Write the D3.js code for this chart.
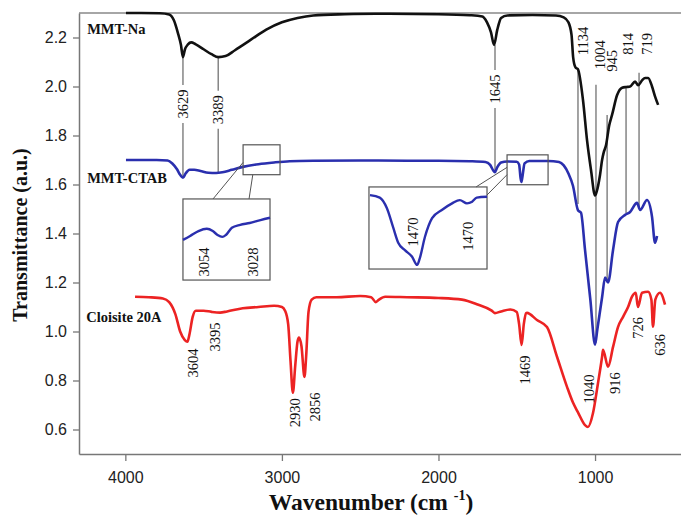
<!DOCTYPE html>
<html>
<head>
<meta charset="utf-8">
<script src="https://cdn.jsdelivr.net/npm/d3@7"></script>
<style>
  html, body { margin: 0; padding: 0; background: #fff; }
  svg { display: block; }
</style>
</head>
<body>
<svg id="chart" width="681" height="517"></svg>
<script>
// ---------------- DATA ----------------
const xTicks = [4000, 3000, 2000, 1000];
const yTicks = [0.6, 0.8, 1.0, 1.2, 1.4, 1.6, 1.8, 2.0, 2.2];

// MMT-Na  [wavenumber, transmittance]
const mmtNa = [
  [3996,2.300],[3900,2.300],[3780,2.299],[3720,2.294],[3690,2.270],[3665,2.220],[3645,2.170],
  [3632,2.120],[3620,2.150],[3600,2.172],[3580,2.180],[3550,2.172],[3500,2.152],[3450,2.132],
  [3405,2.120],[3360,2.124],[3300,2.148],[3200,2.190],[3100,2.232],[3000,2.262],[2900,2.280],
  [2800,2.290],[2600,2.295],[2400,2.297],[2000,2.295],[1800,2.291],[1720,2.286],[1690,2.262],
  [1665,2.222],[1645,2.170],[1625,2.230],[1600,2.280],[1560,2.290],[1400,2.292],[1250,2.290],
  [1200,2.282],[1170,2.262],[1150,2.210],[1140,2.120],[1125,2.078],[1109,2.070],[1077,1.945],
  [1051,1.780],[1026,1.660],[1000,1.555],[990,1.570],[968,1.640],[955,1.700],[945,1.730],
  [930,1.760],[910,1.840],[891,1.885],[859,1.965],[827,1.995],[800,1.998],[776,2.000],
  [744,2.020],[725,2.005],[700,2.025],[680,2.035],[661,2.035],[636,2.000],[617,1.960],[597,1.925]
];

// MMT-CTAB
const mmtCtab = [
  [3996,1.700],[3800,1.700],[3730,1.698],[3700,1.686],[3670,1.662],[3650,1.640],[3632,1.628],
  [3615,1.645],[3590,1.660],[3560,1.660],[3520,1.655],[3470,1.648],[3420,1.647],[3380,1.650],
  [3320,1.660],[3250,1.672],[3150,1.683],[3050,1.690],[2950,1.695],[2800,1.697],[2500,1.698],
  [2200,1.697],[2000,1.697],[1800,1.695],[1700,1.692],[1670,1.680],[1650,1.657],[1640,1.650],
  [1625,1.670],[1600,1.690],[1560,1.694],[1500,1.693],[1485,1.682],[1476,1.628],[1470,1.610],
  [1462,1.640],[1450,1.686],[1420,1.696],[1300,1.696],[1230,1.692],[1200,1.678],[1170,1.645],
  [1141,1.595],[1109,1.495],[1090,1.485],[1064,1.333],[1030,1.130],[1000,0.946],[985,1.010],
  [955,1.140],[936,1.220],[917,1.200],[885,1.333],[853,1.447],[808,1.476],[776,1.488],
  [732,1.525],[712,1.496],[668,1.537],[636,1.468],[617,1.362],[604,1.390]
];

// Cloisite 20A
const cloisite = [
  [3938,1.142],[3850,1.140],[3760,1.135],[3720,1.120],[3680,1.070],[3650,1.000],[3620,0.965],
  [3604,0.958],[3590,0.990],[3570,1.060],[3550,1.085],[3500,1.085],[3450,1.080],[3395,1.077],
  [3350,1.082],[3250,1.095],[3150,1.100],[3050,1.105],[3000,1.100],[2980,1.085],[2960,1.030],
  [2945,0.880],[2930,0.750],[2915,0.860],[2900,0.960],[2891,0.975],[2875,0.940],[2856,0.815],
  [2845,0.900],[2830,1.080],[2810,1.130],[2780,1.140],[2650,1.140],[2500,1.145],[2430,1.140],
  [2400,1.120],[2380,1.130],[2340,1.142],[2200,1.140],[2000,1.137],[1850,1.130],[1750,1.110],
  [1660,1.085],[1640,1.075],[1600,1.082],[1540,1.090],[1500,1.080],[1485,1.030],[1469,0.945],
  [1455,1.030],[1440,1.075],[1435,1.076],[1371,1.047],[1307,1.018],[1243,0.897],[1179,0.774],
  [1141,0.710],[1109,0.670],[1064,0.618],[1045,0.610],[1013,0.667],[981,0.790],[955,0.897],
  [949,0.925],[917,0.856],[885,0.937],[853,1.019],[821,1.060],[789,1.100],[764,1.142],
  [740,1.158],[726,1.100],[700,1.158],[661,1.162],[640,1.130],[630,1.020],[615,1.130],
  [585,1.158],[553,1.110]
];

// inset 1 (zoom of MMT-CTAB near 3050 cm-1)
const inset1Curve = [
  [3078,1.6874],[3072,1.6886],[3065,1.6901],[3058,1.6908],[3053,1.6901],[3049,1.6889],
  [3045,1.6883],[3042,1.6889],[3037,1.6911],[3030,1.6920],[3022,1.6926],[3013,1.6935],[3005,1.6942]
];
const inset1Domain = [3078, 3005];
const inset1TDomain = [1.675, 1.700];
const inset1Labels = [["3054", 3060], ["3028", 3019]];

// inset 2 (zoom of MMT-CTAB near 1470 cm-1)
const inset2Curve = [
  [1558,1.690],[1539,1.687],[1525,1.674],[1513,1.651],[1503,1.632],[1490,1.623],[1476,1.615],
  [1466,1.605],[1461,1.613],[1451,1.639],[1437,1.662],[1418,1.672],[1398,1.680],[1383,1.684],
  [1369,1.680],[1359,1.682],[1350,1.687],[1330,1.688]
];
const inset2Domain = [1560, 1330];
const inset2TDomain = [1.60, 1.70];
const inset2Labels = [["1470", 1475, 1.645], ["1470", 1368, 1.640]];

// boxes: [w1, w2, T1, T2]
const smallBox1 = [3248, 3012, 1.762, 1.640];
const bigBox1   = [3632, 3076, 1.541, 1.210];
const smallBox2 = [1562, 1300, 1.721, 1.599];
const bigBox2   = [2444, 1690, 1.590, 1.255];

// black peak markers: label, line wavenumber, line top T, line bottom T, text w, text centre T
const naPeaks = [
  {label:"3629", w:3632, top:2.120, bottom:1.630, tw:3632, tt:1.929, inline:true},
  {label:"3389", w:3407, top:2.120, bottom:1.648, tw:3407, tt:1.905, inline:true},
  {label:"1645", w:1639, top:2.170, bottom:1.652, tw:1639, tt:1.990, inline:true},
  {label:"1134", w:1109, top:2.076, bottom:1.520, tw:1077, tt:2.186, inline:false},
  {label:"1004", w:994,  top:2.007, bottom:0.954, tw:968,  tt:2.130, inline:false},
  {label:"945",  w:923,  top:1.884, bottom:1.202, tw:891,  tt:2.105, inline:false},
  {label:"814",  w:802,  top:1.995, bottom:1.484, tw:789,  tt:2.174, inline:false},
  {label:"719",  w:719,  top:2.056, bottom:1.508, tw:669,  tt:2.174, inline:false}
];

// red peak labels: label, w, T (text centre)
const cloisitePeaks = [
  ["3604",3567,0.871],["3395",3426,0.978],["2930",2917,0.668],["2856",2789,0.692],
  ["1469",1447,0.843],["1040",1038,0.765],["916",872,0.789],["726",725,1.015],["636",585,0.945]
];

// series names: name, w, T (baseline)
const seriesNames = [["MMT-Na",4244,2.215],["MMT-CTAB",4244,1.606],["Cloisite 20A",4250,1.039]];

// ---------------- DRAW ----------------
const svg = d3.select("#chart");
const x = d3.scaleLinear().domain([4296, 451]).range([79, 681]);
const y = d3.scaleLinear().domain([0.5, 2.3]).range([454, 13]);

const serif = "'Liberation Serif','Times New Roman',serif";
const sans = "'Liberation Sans',Arial,sans-serif";

// frame top line
svg.append("line").attr("x1", x(4296)).attr("x2", x(451)).attr("y1", y(2.3)).attr("y2", y(2.3))
  .attr("stroke", "#888").attr("stroke-width", 1.5);

// axes
const gy = svg.append("g").attr("transform", `translate(${x(4296)},0)`)
  .call(d3.axisLeft(y).tickValues(yTicks).tickFormat(d3.format(".1f")).tickSize(6).tickSizeOuter(0).tickPadding(6));
const gx = svg.append("g").attr("transform", `translate(0,${y(0.5)})`)
  .call(d3.axisBottom(x).tickValues(xTicks).tickFormat(d3.format("d")).tickSize(7).tickSizeOuter(0).tickPadding(11));
[gx, gy].forEach(g => {
  g.select(".domain").attr("stroke", "#777").attr("stroke-width", 1.5);
  g.selectAll(".tick line").attr("stroke", "#777").attr("stroke-width", 1.3);
  g.selectAll(".tick text").attr("font-family", sans).attr("font-size", 16).attr("fill", "#222");
});

// axis titles
svg.append("text").attr("x", 371).attr("y", 510).attr("text-anchor", "middle")
  .attr("font-family", serif).attr("font-weight", "bold").attr("font-size", 23.5).attr("fill", "#111")
  .call(t => {
    t.append("tspan").text("Wavenumber (cm ");
    t.append("tspan").attr("font-size", 14).attr("dy", -10).text("-1");
    t.append("tspan").attr("dy", 10).text(")");
  });
svg.append("text").attr("transform", "translate(27,235) rotate(-90)").attr("text-anchor", "middle")
  .attr("font-family", serif).attr("font-weight", "bold").attr("font-size", 20).attr("fill", "#111")
  .text("Transmittance (a.u.)");

// peak marker lines (behind curves)
const markG = svg.append("g").attr("stroke", "#666").attr("stroke-width", 1.2);
const gapPx = 17;
naPeaks.forEach(p => {
  if (p.inline) {
    markG.append("line").attr("x1", x(p.w)).attr("x2", x(p.w))
      .attr("y1", y(p.top)).attr("y2", y(p.tt) - gapPx - 2);
    markG.append("line").attr("x1", x(p.w)).attr("x2", x(p.w))
      .attr("y1", y(p.tt) + gapPx + 2).attr("y2", y(p.bottom));
  } else {
    markG.append("line").attr("x1", x(p.w)).attr("x2", x(p.w))
      .attr("y1", y(p.top)).attr("y2", y(p.bottom));
  }
});

// curves
const line = d3.line().x(d => x(d[0])).y(d => y(d[1])).curve(d3.curveMonotoneX);
const curves = [[mmtNa, "#111"], [mmtCtab, "#2a2fae"], [cloisite, "#ec2323"]];
curves.forEach(([data, col]) => {
  svg.append("path").datum(data).attr("d", line).attr("fill", "none")
    .attr("stroke", col).attr("stroke-width", 2.6).attr("stroke-linejoin", "round");
});

// boxes and connectors
const boxStroke = "#555";
function box(b) {
  svg.append("rect").attr("x", x(b[0])).attr("y", y(b[2]))
    .attr("width", x(b[1]) - x(b[0])).attr("height", y(b[3]) - y(b[2]))
    .attr("fill", "none").attr("stroke", boxStroke).attr("stroke-width", 1.2);
}
function seg(w1, t1, w2, t2) {
  svg.append("line").attr("x1", x(w1)).attr("y1", y(t1)).attr("x2", x(w2)).attr("y2", y(t2))
    .attr("stroke", boxStroke).attr("stroke-width", 1);
}
box(smallBox1); box(bigBox1); box(smallBox2); box(bigBox2);
seg(3440, bigBox1[2], smallBox1[0], 1.690);
seg(3210, bigBox1[2], 3186, smallBox1[3]);
seg(1760, bigBox2[2], smallBox2[0], 1.670);
seg(bigBox2[1], 1.557, smallBox2[0], 1.640);

// inset curves
function inset(curve, dom, tdom, b, color) {
  const ix = d3.scaleLinear().domain(dom).range([x(b[0]), x(b[1])]);
  const iy = d3.scaleLinear().domain(tdom).range([y(b[3]), y(b[2])]);
  const l = d3.line().x(d => ix(d[0])).y(d => iy(d[1])).curve(d3.curveMonotoneX);
  svg.append("path").datum(curve).attr("d", l).attr("fill", "none")
    .attr("stroke", color).attr("stroke-width", 2.4).attr("stroke-linejoin", "round");
  return [ix, iy];
}
const [i1x, i1y] = inset(inset1Curve, inset1Domain, inset1TDomain, bigBox1, "#2a2fae");
const [i2x, i2y] = inset(inset2Curve, inset2Domain, inset2TDomain, bigBox2, "#2a2fae");

function vlabel(px, py, txt) {
  svg.append("text").attr("transform", `translate(${px},${py}) rotate(-90)`)
    .attr("text-anchor", "middle").attr("dominant-baseline", "central")
    .attr("font-family", serif).attr("font-size", 14.5).attr("fill", "#111").text(txt);
}
inset1Labels.forEach(([t, w]) => vlabel(i1x(w), y(1.284), t));
inset2Labels.forEach(([t, w, T]) => vlabel(i2x(w), i2y(T), t));

// peak labels
naPeaks.forEach(p => vlabel(x(p.tw), y(p.tt), p.label));
cloisitePeaks.forEach(([t, w, T]) => vlabel(x(w), y(T), t));

// series names
seriesNames.forEach(([n, w, T]) => {
  svg.append("text").attr("x", x(w)).attr("y", y(T))
    .attr("font-family", serif).attr("font-weight", "bold").attr("font-size", 14.5)
    .attr("fill", "#111").text(n);
});
</script>
</body>
</html>
